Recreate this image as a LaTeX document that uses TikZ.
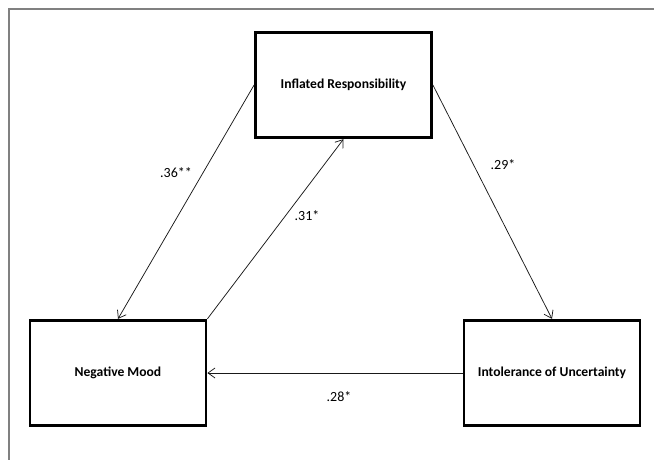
\documentclass[tikz,border=0pt]{standalone}
\usepackage{fontspec}
\setmainfont{Carlito}
\usetikzlibrary{arrows.meta}

\begin{document}
\begin{tikzpicture}[
  x=1pt, y=-1pt,
  >={Straight Barb[length=7pt,width=10pt]},
  var/.style={draw, line width=2.8pt, minimum width=176pt, minimum height=105.5pt,
              align=center, font=\fontsize{13.6}{16}\selectfont\bfseries},
  coef/.style={font=\fontsize{14}{16}\selectfont},
  every edge/.style={draw, ->, line width=0.75pt, color=black!90}
]
  \useasboundingbox (0,0) rectangle (654,460);
  % frame of the screenshot
  \draw[gray, line width=1.3pt] (9,460) -- (9,9) -- (654,9);

  \node[var] (resp)  at (343.5,85)  {Inflated Responsibility};
  \node[var] (mood)  at (118,373)   {Negative Mood};
  \node[var] (uncer) at (552,373)   {Intolerance of Uncertainty};

  \path (resp.west)       edge (mood.north);
  \path (mood.north east) edge (resp.south);
  \path (resp.east)       edge (uncer.north);
  \path (uncer.west)      edge (mood.east);

  \node[coef] (c1) at (176,173) {.36**};
  \node[coef] (c2) at (307,216) {.31*};
  \node[coef] (c3) at (503,165) {.29*};
  \node[coef] (c4) at (339,397) {.28*};
\end{tikzpicture}
\end{document}
